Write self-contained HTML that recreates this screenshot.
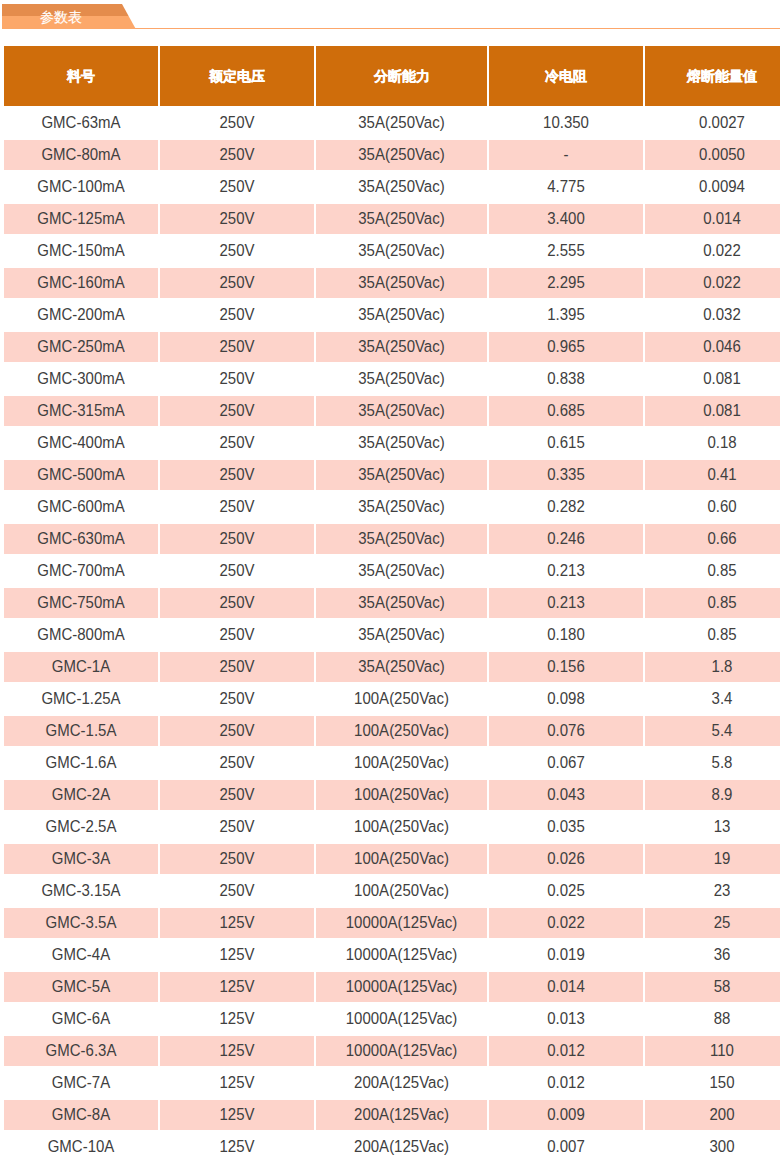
<!DOCTYPE html>
<html><head><meta charset="utf-8"><title>参数表</title>
<style>
html,body{margin:0;padding:0;width:780px;height:1168px;overflow:hidden;background:#fff;}
body{font-family:"Liberation Sans",sans-serif;font-size:14px;color:#404040;position:relative;}
.tab{position:absolute;left:0;top:0;}
.title{position:absolute;left:40px;top:9px;font-size:14px;color:#fff;line-height:16px;-webkit-text-stroke:0.15px #fff;}
table{position:absolute;left:2px;top:44px;border-collapse:separate;border-spacing:2px;table-layout:fixed;width:799px;}
th{background:#cf6d0b;color:#fff;height:59px;padding-top:1px !important;font-weight:bold;-webkit-text-stroke:0.3px #fff;padding:0;font-size:14px;}
td{height:27px;padding:0 0 3px 0;text-align:center;font-size:15px;}
tr.p td{background:#fdd3ca;}
td span{display:inline-block;transform:scaleY(1.1);}
</style></head><body>
<svg class="tab" width="780" height="40" viewBox="0 0 780 40">
<rect x="2" y="28" width="778" height="1" fill="#fda76b"/>
<polygon points="2,4 122,4 128.6,16 2,16" fill="#e48c4c"/>
<polygon points="2,16 128.6,16 135.8,29 2,29" fill="#fca86a"/>
</svg>
<div class="title">参数表</div>
<table>
<colgroup><col style="width:154px"><col style="width:154px"><col style="width:171px"><col style="width:154px"><col style="width:154px"></colgroup>
<tr><th>料号</th><th>额定电压</th><th>分断能力</th><th>冷电阻</th><th>熔断能量值</th></tr>
<tr><td><span>GMC-63mA</span></td><td><span>250V</span></td><td><span>35A(250Vac)</span></td><td><span>10.350</span></td><td><span>0.0027</span></td></tr>
<tr class="p"><td><span>GMC-80mA</span></td><td><span>250V</span></td><td><span>35A(250Vac)</span></td><td><span>-</span></td><td><span>0.0050</span></td></tr>
<tr><td><span>GMC-100mA</span></td><td><span>250V</span></td><td><span>35A(250Vac)</span></td><td><span>4.775</span></td><td><span>0.0094</span></td></tr>
<tr class="p"><td><span>GMC-125mA</span></td><td><span>250V</span></td><td><span>35A(250Vac)</span></td><td><span>3.400</span></td><td><span>0.014</span></td></tr>
<tr><td><span>GMC-150mA</span></td><td><span>250V</span></td><td><span>35A(250Vac)</span></td><td><span>2.555</span></td><td><span>0.022</span></td></tr>
<tr class="p"><td><span>GMC-160mA</span></td><td><span>250V</span></td><td><span>35A(250Vac)</span></td><td><span>2.295</span></td><td><span>0.022</span></td></tr>
<tr><td><span>GMC-200mA</span></td><td><span>250V</span></td><td><span>35A(250Vac)</span></td><td><span>1.395</span></td><td><span>0.032</span></td></tr>
<tr class="p"><td><span>GMC-250mA</span></td><td><span>250V</span></td><td><span>35A(250Vac)</span></td><td><span>0.965</span></td><td><span>0.046</span></td></tr>
<tr><td><span>GMC-300mA</span></td><td><span>250V</span></td><td><span>35A(250Vac)</span></td><td><span>0.838</span></td><td><span>0.081</span></td></tr>
<tr class="p"><td><span>GMC-315mA</span></td><td><span>250V</span></td><td><span>35A(250Vac)</span></td><td><span>0.685</span></td><td><span>0.081</span></td></tr>
<tr><td><span>GMC-400mA</span></td><td><span>250V</span></td><td><span>35A(250Vac)</span></td><td><span>0.615</span></td><td><span>0.18</span></td></tr>
<tr class="p"><td><span>GMC-500mA</span></td><td><span>250V</span></td><td><span>35A(250Vac)</span></td><td><span>0.335</span></td><td><span>0.41</span></td></tr>
<tr><td><span>GMC-600mA</span></td><td><span>250V</span></td><td><span>35A(250Vac)</span></td><td><span>0.282</span></td><td><span>0.60</span></td></tr>
<tr class="p"><td><span>GMC-630mA</span></td><td><span>250V</span></td><td><span>35A(250Vac)</span></td><td><span>0.246</span></td><td><span>0.66</span></td></tr>
<tr><td><span>GMC-700mA</span></td><td><span>250V</span></td><td><span>35A(250Vac)</span></td><td><span>0.213</span></td><td><span>0.85</span></td></tr>
<tr class="p"><td><span>GMC-750mA</span></td><td><span>250V</span></td><td><span>35A(250Vac)</span></td><td><span>0.213</span></td><td><span>0.85</span></td></tr>
<tr><td><span>GMC-800mA</span></td><td><span>250V</span></td><td><span>35A(250Vac)</span></td><td><span>0.180</span></td><td><span>0.85</span></td></tr>
<tr class="p"><td><span>GMC-1A</span></td><td><span>250V</span></td><td><span>35A(250Vac)</span></td><td><span>0.156</span></td><td><span>1.8</span></td></tr>
<tr><td><span>GMC-1.25A</span></td><td><span>250V</span></td><td><span>100A(250Vac)</span></td><td><span>0.098</span></td><td><span>3.4</span></td></tr>
<tr class="p"><td><span>GMC-1.5A</span></td><td><span>250V</span></td><td><span>100A(250Vac)</span></td><td><span>0.076</span></td><td><span>5.4</span></td></tr>
<tr><td><span>GMC-1.6A</span></td><td><span>250V</span></td><td><span>100A(250Vac)</span></td><td><span>0.067</span></td><td><span>5.8</span></td></tr>
<tr class="p"><td><span>GMC-2A</span></td><td><span>250V</span></td><td><span>100A(250Vac)</span></td><td><span>0.043</span></td><td><span>8.9</span></td></tr>
<tr><td><span>GMC-2.5A</span></td><td><span>250V</span></td><td><span>100A(250Vac)</span></td><td><span>0.035</span></td><td><span>13</span></td></tr>
<tr class="p"><td><span>GMC-3A</span></td><td><span>250V</span></td><td><span>100A(250Vac)</span></td><td><span>0.026</span></td><td><span>19</span></td></tr>
<tr><td><span>GMC-3.15A</span></td><td><span>250V</span></td><td><span>100A(250Vac)</span></td><td><span>0.025</span></td><td><span>23</span></td></tr>
<tr class="p"><td><span>GMC-3.5A</span></td><td><span>125V</span></td><td><span>10000A(125Vac)</span></td><td><span>0.022</span></td><td><span>25</span></td></tr>
<tr><td><span>GMC-4A</span></td><td><span>125V</span></td><td><span>10000A(125Vac)</span></td><td><span>0.019</span></td><td><span>36</span></td></tr>
<tr class="p"><td><span>GMC-5A</span></td><td><span>125V</span></td><td><span>10000A(125Vac)</span></td><td><span>0.014</span></td><td><span>58</span></td></tr>
<tr><td><span>GMC-6A</span></td><td><span>125V</span></td><td><span>10000A(125Vac)</span></td><td><span>0.013</span></td><td><span>88</span></td></tr>
<tr class="p"><td><span>GMC-6.3A</span></td><td><span>125V</span></td><td><span>10000A(125Vac)</span></td><td><span>0.012</span></td><td><span>110</span></td></tr>
<tr><td><span>GMC-7A</span></td><td><span>125V</span></td><td><span>200A(125Vac)</span></td><td><span>0.012</span></td><td><span>150</span></td></tr>
<tr class="p"><td><span>GMC-8A</span></td><td><span>125V</span></td><td><span>200A(125Vac)</span></td><td><span>0.009</span></td><td><span>200</span></td></tr>
<tr><td><span>GMC-10A</span></td><td><span>125V</span></td><td><span>200A(125Vac)</span></td><td><span>0.007</span></td><td><span>300</span></td></tr>
</table>
</body></html>
